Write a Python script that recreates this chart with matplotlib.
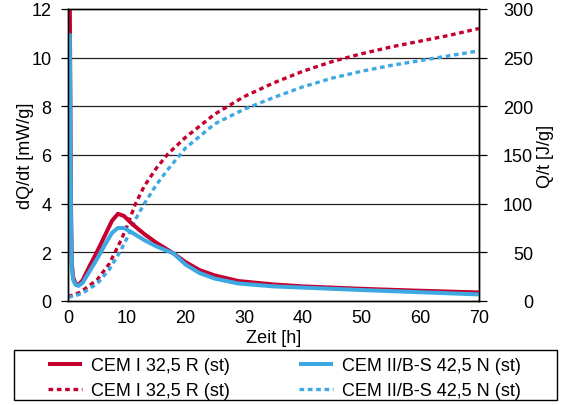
import matplotlib
matplotlib.use("Agg")
import matplotlib.pyplot as plt
from matplotlib.patches import Rectangle

# ==========================================
# DATA
# ==========================================
t_rate = [0.3, 0.4, 0.5, 0.65, 0.9, 1.3, 1.8, 2.5, 3.5, 5, 6.5, 7.5, 8.5, 9.5, 11, 13, 15,
          18, 20, 22.4, 25, 29, 35, 40, 50, 60, 70]
rate_cem1 = [12.5, 8.5, 4.0, 1.5, 0.95, 0.72, 0.66, 0.85, 1.35, 2.05, 2.8, 3.3, 3.58, 3.5,
             3.15, 2.75, 2.4, 1.95, 1.6, 1.27, 1.05, 0.82, 0.68, 0.6, 0.5, 0.42, 0.35]
rate_cem2 = [11.0, 7.5, 3.5, 1.3, 0.85, 0.66, 0.62, 0.75, 1.15, 1.75, 2.4, 2.8, 3.0, 3.0,
             2.8, 2.5, 2.25, 1.95, 1.5, 1.15, 0.92, 0.72, 0.6, 0.55, 0.45, 0.36, 0.27]

t_heat = [0, 1, 2, 3, 5, 7, 9, 10, 11.5, 13, 15, 17, 20, 25, 30, 35, 40, 45, 50, 55, 60, 65, 70]
heat_cem1 = [5, 6, 9, 13, 22, 38, 62, 76, 100, 118, 136, 151, 168, 192, 210, 224, 236, 246,
             254, 261, 267, 273, 280]
heat_cem2 = [4, 5, 7, 10, 18, 32, 52, 64, 84, 100, 119, 135, 157, 182, 197, 209, 220, 229,
             236, 242, 247, 252, 257]

x_ticks = [0, 10, 20, 30, 40, 50, 60, 70]
y_left_ticks = [0, 2, 4, 6, 8, 10, 12]
y_right_ticks = [0, 50, 100, 150, 200, 250, 300]
labels = ["CEM I 32,5 R (st)", "CEM II/B-S 42,5 N (st)"]

RED = "#c5002e"
BLUE = "#3ca9e2"
DOTS = (0, (1.4, 1.1))
FS = 13

plt.rcParams["font.family"] = ["Liberation Sans", "DejaVu Sans"]

fig = plt.figure(figsize=(5.61, 4.06), dpi=100)
ax = fig.add_axes([0.1212, 0.2562, 0.7326, 0.7192])
ax2 = ax.twinx()

ax.set_zorder(ax2.get_zorder() + 1)
ax.patch.set_visible(False)

for v in y_left_ticks[1:-1]:
    ax2.axhline(v * 25, color="#222222", lw=0.9, zorder=0)

l1, = ax.plot(t_rate, rate_cem1, color=RED, lw=2.9, solid_capstyle="butt")
l2, = ax.plot(t_rate, rate_cem2, color=BLUE, lw=2.9, solid_capstyle="butt")
d1, = ax2.plot(t_heat, heat_cem1, color=RED, lw=2.4, linestyle=DOTS)
d2, = ax2.plot(t_heat, heat_cem2, color=BLUE, lw=2.4, linestyle=DOTS)

ax.set_xlim(0, 70)
ax.set_ylim(0, 12)
ax2.set_ylim(0, 300)
ax.set_xticks(x_ticks)
ax.set_yticks(y_left_ticks)
ax2.set_yticks(y_right_ticks)

ax.tick_params(axis="x", length=0, labelsize=FS, pad=6)
ax.tick_params(axis="y", length=5, width=0.9, labelsize=FS, pad=7, direction="out")
ax2.tick_params(axis="y", length=6, width=0.9, labelsize=FS, pad=33, direction="out")
for lab in ax2.get_yticklabels():
    lab.set_horizontalalignment("right")

for a in (ax, ax2):
    for s in a.spines.values():
        s.set_linewidth(1.0)
        s.set_color("black")

ax.set_xlabel("Zeit [h]", fontsize=FS, labelpad=2)
ax.set_ylabel("dQ/dt [mW/g]", fontsize=FS)
ax2.set_ylabel("Q/t [J/g]", fontsize=FS)
ax.yaxis.set_label_coords(-0.083, 0.5)
ax2.yaxis.set_label_coords(1.141, 0.5)

# legend box drawn separately so the inner spacing can follow the original
fig.patches.append(Rectangle((0.025, 0.0123), 0.968, 0.1232, transform=fig.transFigure,
                             fill=False, edgecolor="black", lw=1.0))
fig.legend(
    [l1, d1, l2, d2],
    [labels[0], labels[0], labels[1], labels[1]],
    ncol=2,
    loc="upper left",
    bbox_to_anchor=(0.085, 0.1185),
    fontsize=FS,
    frameon=False,
    handlelength=1.9,
    handletextpad=0.5,
    columnspacing=3.8,
    borderpad=0,
    labelspacing=0.47,
    borderaxespad=0,
)

plt.savefig("out.png", dpi=100)
plt.close()
